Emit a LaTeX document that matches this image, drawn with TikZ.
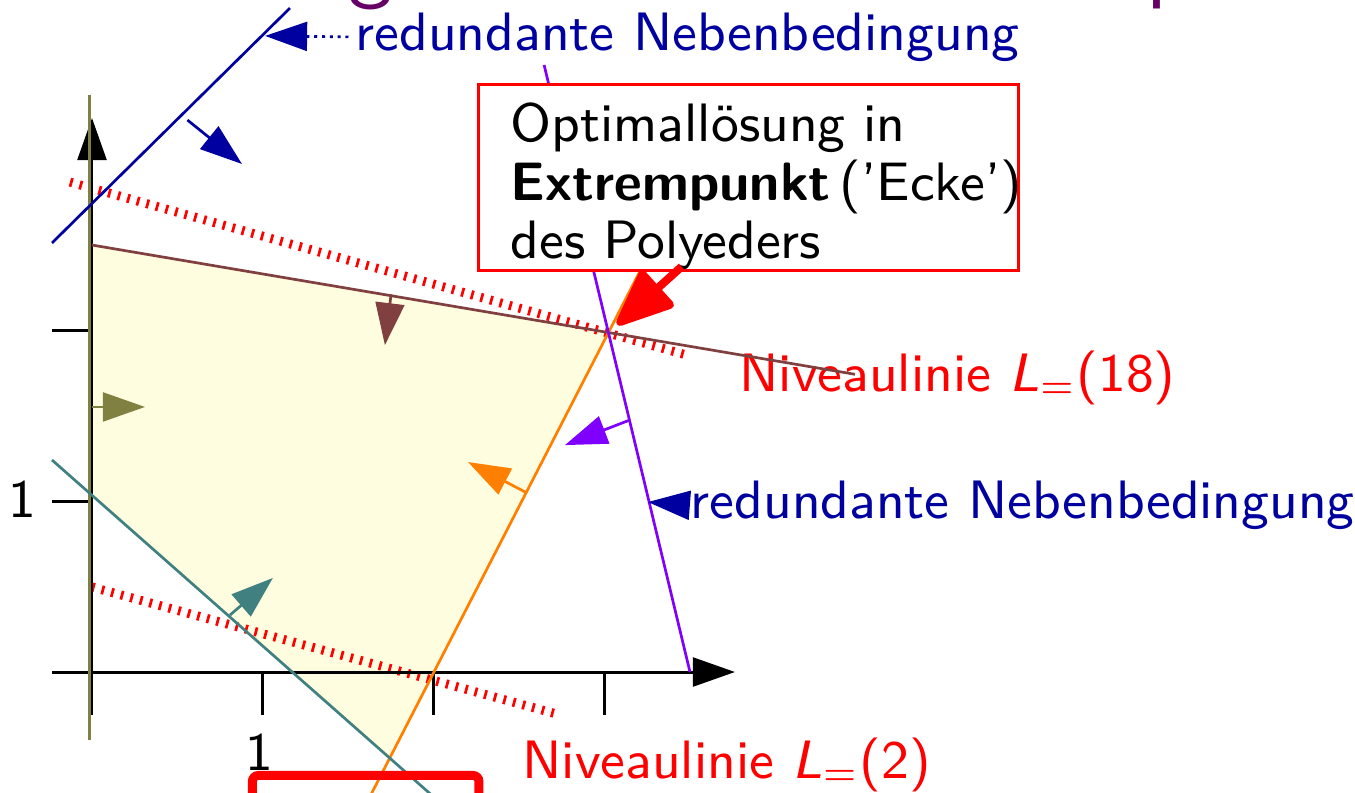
\documentclass[tikz,border=0pt]{standalone}
\usepackage{tikz}
\usetikzlibrary{arrows.meta}

\definecolor{nbblue}{RGB}{0,0,160}
\definecolor{nbviolet}{RGB}{128,0,255}
\definecolor{nborange}{RGB}{255,128,0}
\definecolor{nbbrown}{RGB}{128,64,64}
\definecolor{nbteal}{RGB}{64,128,128}
\definecolor{nbolive}{RGB}{128,128,64}
\definecolor{feasible}{RGB}{255,253,224}
\definecolor{titlepurple}{RGB}{102,0,102}

\tikzset{
  axis/.style={line width=0.5pt, -{Triangle[length=7pt,width=4.8pt]}},
  cons/.style={line width=0.45pt},
  halfplane/.style={line width=0.45pt, -{Triangle[length=7pt,width=4.8pt]}},
  levelline/.style={red, line width=1.5pt, dash pattern=on 0.45pt off 1.2pt},
  redundant/.style={nbblue, inner sep=1pt, anchor=base west},
  pointer/.style={nbblue, line width=0.45pt, dash pattern=on 0.5pt off 0.8pt, -{Triangle[length=7pt,width=4.8pt]}},
  niveau/.style={red, inner sep=1pt, anchor=base west},
  titlepart/.style={titlepurple, font=\fontsize{15}{18}\selectfont\sffamily, inner sep=0pt},
}

\begin{document}
\begin{tikzpicture}[font=\fontsize{9}{9.78}\selectfont\sffamily]
\useasboundingbox (-0.538,-0.702) rectangle (7.386,3.930);
\clip (-0.538,-0.702) rectangle (7.386,3.930);

% Geraden der Nebenbedingungen
\coordinate (opt) at (3.02,1.985);
\coordinate (b1) at (0,2.497);
\coordinate (b2) at (4.462,1.741);
\coordinate (o1) at (1.599,-0.78);
\coordinate (o2) at (3.22,2.374);
\coordinate (v1) at (2.644,3.55);
\coordinate (v2) at (3.497,0);
\coordinate (t1) at (-0.234,1.24);
\coordinate (t2) at (2.1,-0.82);
\coordinate (r1) at (-0.234,2.509);
\coordinate (r2) at (1.158,3.883);
\coordinate (x1) at (-0.015,-0.398);
\coordinate (x2) at (-0.015,3.374);

% zulaessiger Bereich
\fill[feasible] (b1) -- (opt) -- (intersection of o1--o2 and t1--t2) -- (0,1.0335) -- cycle;

% Niveaulinien
\draw[levelline] (-0.129,2.865) -- (3.497,1.848);
\draw[levelline] (0,0.497) -- (2.737,-0.251);
\node[niveau] (niv18) at (3.745,1.643) {Niveaulinie \textsl{L}$_=$(18)};
\node[niveau] (niv2) at (2.475,-0.62) {Niveaulinie \textsl{L}$_=$(2)};

% Achsen
\draw[axis] (-0.234,0) -- (3.76,0);
\draw[axis] (0,-0.25) -- (0,3.24);
\foreach \i in {1,2,3}
  \draw[line width=0.5pt] (\i,0) -- (\i,-0.25);
\foreach \j in {1,2}
  \draw[line width=0.5pt] (0,\j) -- (-0.234,\j);
\node (xone) at (0.977,-0.468) {1};
\node (yone) at (-0.409,1.009) {1};

\draw[cons, nbolive] (x1) -- (x2);
\draw[cons, nbbrown] (b1) -- (b2);
\draw[cons, nborange] (o1) -- (o2);
\draw[cons, nbviolet] (v1) -- (v2);
\draw[cons, nbteal] (t1) -- (t2);
\draw[cons, nbblue] (r1) -- (r2);

% Halbebenen
\draw[halfplane, nbolive] (0,1.55) -- (0.31,1.55);
\draw[halfplane, nbbrown] (1.749,2.2085) -- (1.713,1.912);
\draw[halfplane, nborange] (2.544,1.047) -- (2.199,1.228);
\draw[halfplane, nbviolet] (3.146,1.474) -- (2.766,1.327);
\draw[halfplane, nbteal] (0.807,0.333) -- (1.058,0.550);
\draw[halfplane, nbblue] (0.558,3.228) -- (0.877,2.971);

% Optimum
\node[draw=red, fill=white, line width=0.45pt, anchor=north west, text width=3.158cm,
  inner xsep=0pt, inner ysep=0pt, text height=9.45pt, text depth=21.5pt, align=left]
  (box) at (2.251,3.444)
  {\hspace*{0.19cm}Optimallösung in\\
   \hspace*{0.19cm}\mbox{\textbf{Extrempunkt}\,('Ecke')}\\
   \hspace*{0.19cm}des Polyeders};
\draw[red, line width=1.35pt, -{Triangle[length=10.5pt,width=8.5pt,round]}, shorten >=2pt]
  ([shift={(-0.39,0.03)}]box.south) -- (opt);

% redundante Nebenbedingungen
\node[redundant] (redtop) at (1.50,3.637) {redundante Nebenbedingung};
\coordinate (redtoptip) at (1.012,3.72);
\draw[pointer] (redtop.west) -- (redtoptip);
\node[redundant] (redbot) at (3.46,0.9006) {redundante Nebenbedingung};
\coordinate (redbottip) at (3.251,0.994);
\draw[pointer] (redbot.west) -- (redbottip);

% angeschnittene Folienteile
\node[titlepart, anchor=base] (titleg) at (1.632,3.977) {g};
\node[titlepart, anchor=base west] (titlep) at (6.16,3.977) {p};
\draw[red, line width=1.5pt, rounded corners=1pt] (0.938,-1.2) rectangle (2.263,-0.605);
\end{tikzpicture}
\end{document}
